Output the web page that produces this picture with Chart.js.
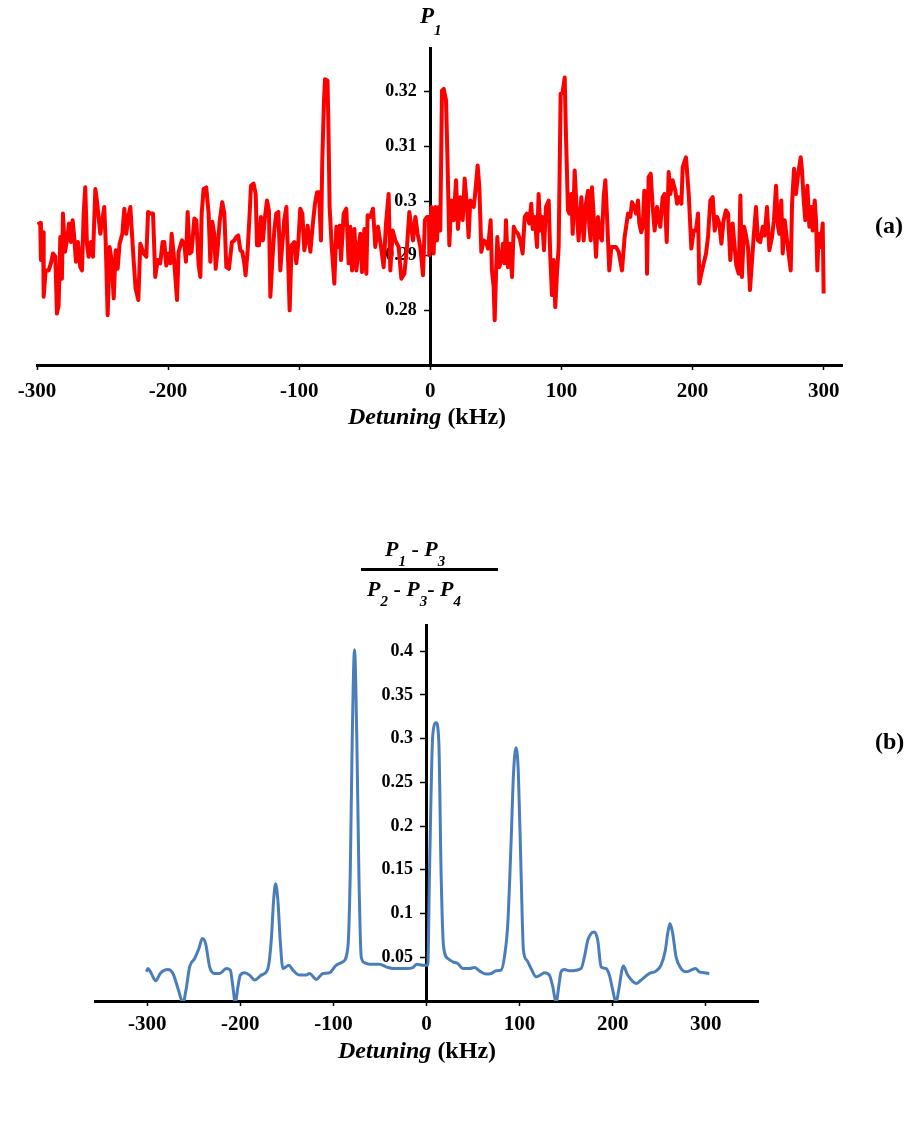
<!DOCTYPE html>
<html>
<head>
<meta charset="utf-8">
<script src="https://cdn.jsdelivr.net/npm/chart.js@4/dist/chart.umd.min.js"></script>
<style>
  body { margin: 0; background: #fff; width: 913px; height: 1144px; position: relative; overflow: hidden; }
  canvas { position: absolute; left: 0; }
  .lbl { position: absolute; font-family: 'Liberation Serif', serif; font-weight: bold; color: #000; line-height: 1; white-space: nowrap; }
  .lbl sub { font-size: 15px; vertical-align: -10px; line-height: 0; font-style: italic; }
  .bar { position: absolute; background: #000; }
</style>
</head>
<body>
<canvas id="topChart" width="913" height="440" style="top:0"></canvas>
<canvas id="bottomChart" width="913" height="604" style="top:540px"></canvas>

<div class="lbl" style="left:420px; top:4px; font-size:23px;"><i>P</i><sub style="vertical-align:-12px">1</sub></div>
<div class="lbl" style="left:348px; top:404px; font-size:24px;"><i>Detuning</i> (kHz)</div>
<div class="lbl" style="left:875px; top:213px; font-size:24px;">(a)</div>

<div class="lbl" style="left:385px; top:538px; font-size:22px;"><i>P</i><sub>1</sub> - <i>P</i><sub>3</sub></div>
<div class="bar" style="left:361px; top:568px; width:137px; height:3px;"></div>
<div class="lbl" style="left:367px; top:578px; font-size:22px;"><i>P</i><sub>2</sub> - <i>P</i><sub>3</sub>- <i>P</i><sub>4</sub></div>
<div class="lbl" style="left:338px; top:1038px; font-size:24px;"><i>Detuning</i> (kHz)</div>
<div class="lbl" style="left:875px; top:729px; font-size:24px;">(b)</div>

<script>
// (a) P1 vs detuning
const p1Detuning = [
  -299.5, -297.5, -297.0, -295.4, -294.9, -293.4, -291.1, -289.4, -287.8, -286.0,
  -284.8, -283.5, -282.2, -281.0, -280.2, -278.7, -277.1, -275.6, -274.1, -272.8,
  -271.6, -270.3, -268.8, -267.0, -265.7, -264.4, -263.2, -261.9, -260.6, -258.8,
  -257.3, -255.5, -254.3, -251.7, -250.2, -248.7, -247.6, -246.1, -244.6, -243.1,
  -241.5, -240.0, -238.5, -237.0, -234.9, -233.4, -231.9, -230.4, -228.8, -226.3,
  -224.8, -222.7, -221.2, -218.7, -216.6, -215.3, -213.6, -211.5, -209.8, -208.0,
  -206.0, -204.2, -202.9, -201.4, -199.6, -198.3, -197.3, -195.8, -193.2, -192.0,
  -189.4, -187.6, -186.4, -185.1, -183.6, -182.1, -180.0, -178.5, -176.7, -175.4,
  -174.4, -172.9, -170.9, -169.1, -167.8, -166.3, -164.8, -163.7, -162.2, -160.7,
  -158.7, -157.1, -155.6, -153.6, -151.3, -149.5,
  -148.0, -146.5, -144.9, -143.4, -141.9, -140.9, -139.3, -137.8, -136.8, -134.8,
  -133.2, -132.2, -130.7, -129.2, -127.7, -126.1, -124.6, -123.1, -122.0, -120.5,
  -119.0, -117.5, -115.9, -114.4, -112.9, -111.4, -109.8, -108.3, -107.3, -105.8,
  -103.7, -102.2, -100.7, -99.2, -97.6, -96.1, -94.6, -93.6, -91.5, -89.8,
  -88.0, -86.4, -84.9, -83.4, -82.4, -81.1, -80.3, -78.4, -77.8, -76.8,
  -75.2, -73.2, -71.7, -70.7, -69.1, -68.1, -66.1, -64.1, -62.3, -61.0,
  -59.7, -57.9, -56.4, -54.7, -53.4, -52.1, -50.3, -48.8, -47.8, -45.8,
  -43.7, -42.0, -39.9, -37.6, -35.6, -33.8, -31.8, -30.5, -28.7, -26.7,
  -24.2, -22.1, -19.8, -17.8, -16.0, -13.2, -11.4, -9.7, -7.6, -5.6,
  -4.1, -2.5, -1.0,
  -0.8, 0.8, 2.5, 3.8, 5.1, 6.4, 7.6, 8.9, 10.2, 12.0,
  13.0, 14.5, 16.0, 17.8, 19.6, 21.1, 22.9, 24.7, 26.2, 28.0,
  29.2, 30.5, 33.1, 34.3, 36.1, 37.4, 38.9, 40.7, 42.5, 44.0,
  46.0, 47.0, 48.3, 49.1, 50.1, 51.1, 52.6, 54.2, 55.4, 56.7,
  57.7, 59.2, 60.8, 62.3, 63.6, 64.8, 66.9, 68.6, 70.4, 72.0,
  73.7, 75.5, 77.0, 78.1, 79.6, 81.4, 82.6, 83.9, 85.2, 86.7,
  88.2, 90.3, 91.5, 92.8, 94.1, 95.3, 96.6, 97.9, 99.4, 100.9,
  102.5, 103.5, 105.0, 106.0, 107.6, 108.6, 110.1, 111.9, 113.1, 115.2,
  117.0, 118.7, 120.3, 121.3, 122.3, 123.3, 124.8, 126.4, 127.9, 129.7,
  130.9, 132.2, 133.5, 134.8, 136.5, 138.1, 139.8, 141.6, 143.7, 146.2,
  148.2, 150.8,
  152.6, 153.8, 155.6, 156.9, 158.4, 159.4, 160.9, 162.0, 163.2, 164.5,
  165.3, 166.5, 168.1, 169.6, 171.1, 172.9, 174.2, 175.4, 177.2, 178.7,
  180.3, 181.8, 183.1, 184.8, 186.9, 188.2, 189.4, 191.5, 192.5, 195.0,
  197.1, 199.1, 200.9, 202.6, 204.2, 205.2, 206.7, 208.5, 210.3, 211.8,
  213.6, 215.4, 216.9, 218.7, 220.4, 222.0, 223.7, 225.5, 227.1, 228.8,
  230.6, 232.1, 233.4, 235.2, 236.5, 237.7, 239.3, 240.8, 242.3, 243.8,
  245.4, 246.6, 248.4, 249.9, 251.7, 253.5, 255.0, 256.8, 258.6, 260.6,
  262.1, 263.7, 265.2, 266.2, 267.7, 268.8, 270.3, 271.8, 273.3, 274.9,
  275.9, 277.4, 278.9, 280.4, 282.5, 283.5, 284.8, 286.0, 287.6, 289.1,
  290.6, 291.6, 293.2, 294.2, 295.2, 296.2, 297.7, 299.3, 300.0
];
const p1Values = [
  0.2957, 0.2960, 0.2892, 0.2943, 0.2825, 0.2873, 0.2873, 0.2886, 0.2904, 0.2898,
  0.2794, 0.2809, 0.2934, 0.2858, 0.2977, 0.2907, 0.2928, 0.2959, 0.2925, 0.2965,
  0.2934, 0.2889, 0.2925, 0.2879, 0.2873, 0.2977, 0.3025, 0.2922, 0.2898, 0.2925,
  0.2898, 0.3022, 0.3001, 0.2940, 0.2965, 0.2989, 0.2925, 0.2791, 0.2916, 0.2892,
  0.2822, 0.2910, 0.2876, 0.2922, 0.2940, 0.2986, 0.2940, 0.2971, 0.2989, 0.2892,
  0.2840, 0.2819, 0.2922, 0.2904, 0.2898, 0.2980, 0.2977, 0.2977, 0.2861, 0.2892,
  0.2886, 0.2925, 0.2925, 0.2882, 0.2904, 0.2886, 0.2940, 0.2904, 0.2819, 0.2907,
  0.2928, 0.2922, 0.2889, 0.2980, 0.2904, 0.2907, 0.2968, 0.2965, 0.2882, 0.2861,
  0.2977, 0.3022, 0.3025, 0.2977, 0.2889, 0.2962, 0.2940, 0.2876, 0.2913, 0.2962,
  0.2998, 0.2977, 0.2879, 0.2876, 0.2925, 0.2928,
  0.2934, 0.2937, 0.2910, 0.2907, 0.2886, 0.2864, 0.2910, 0.2977, 0.3028, 0.3032,
  0.3013, 0.2919, 0.2919, 0.2971, 0.2928, 0.2971, 0.3001, 0.2983, 0.2825, 0.2892,
  0.2946, 0.2977, 0.2980, 0.2873, 0.2922, 0.2965, 0.2989, 0.2879, 0.2800, 0.2919,
  0.2925, 0.2886, 0.2922, 0.2986, 0.2977, 0.2910, 0.2931, 0.2955, 0.2907, 0.2953,
  0.2995, 0.3016, 0.3016, 0.2928, 0.3074, 0.3184, 0.3223, 0.3220, 0.3147, 0.2989,
  0.2916, 0.2849, 0.2953, 0.2916, 0.2955, 0.2892, 0.2977, 0.2986, 0.2886, 0.2953,
  0.2873, 0.2949, 0.2873, 0.2916, 0.2940, 0.2870, 0.2949, 0.2867, 0.2974, 0.2971,
  0.2986, 0.2916, 0.2953, 0.2916, 0.2879, 0.2959, 0.3013, 0.2873, 0.2946, 0.2928,
  0.2916, 0.2858, 0.2867, 0.2916, 0.2980, 0.2928, 0.2971, 0.2940, 0.2916, 0.2864,
  0.2965, 0.2971, 0.2971,
  0.2901, 0.2989, 0.2904, 0.2989, 0.2928, 0.2989, 0.2946, 0.3202, 0.3205, 0.3184,
  0.3086, 0.2919, 0.3001, 0.2965, 0.3038, 0.2949, 0.3007, 0.2965, 0.3041, 0.2989,
  0.2934, 0.3001, 0.2989, 0.3016, 0.3065, 0.3025, 0.2907, 0.2928, 0.2925, 0.2913,
  0.2965, 0.2873, 0.2843, 0.2782, 0.2867, 0.2934, 0.2879, 0.2892, 0.2922, 0.2886,
  0.2965, 0.2879, 0.2922, 0.2861, 0.2953, 0.2946, 0.2940, 0.2928, 0.2904, 0.2971,
  0.2977, 0.2959, 0.2995, 0.2949, 0.2971, 0.2916, 0.3013, 0.2946, 0.2971, 0.2910,
  0.2989, 0.3001, 0.2898, 0.2828, 0.2892, 0.2806, 0.2867, 0.2916, 0.3196, 0.3199,
  0.3226, 0.3117, 0.2983, 0.2977, 0.3013, 0.2940, 0.3056, 0.2971, 0.2928, 0.3007,
  0.2928, 0.2995, 0.3019, 0.2953, 0.2928, 0.3025, 0.2965, 0.2898, 0.2971, 0.2934,
  0.2928, 0.3007, 0.3038, 0.2971, 0.2873, 0.2916, 0.2916, 0.2916, 0.2907, 0.2873,
  0.2934, 0.2977,
  0.2971, 0.2998, 0.2989, 0.2977, 0.3001, 0.2959, 0.2943, 0.2953, 0.3019, 0.3016,
  0.2867, 0.3044, 0.3050, 0.2989, 0.2946, 0.2989, 0.2965, 0.2953, 0.3007, 0.3013,
  0.2925, 0.3053, 0.3013, 0.3038, 0.3019, 0.2995, 0.3007, 0.2995, 0.3062, 0.3080,
  0.3013, 0.2913, 0.2946, 0.2946, 0.2977, 0.2849, 0.2867, 0.2886, 0.2904, 0.2934,
  0.3001, 0.3007, 0.2946, 0.2971, 0.2959, 0.2922, 0.2965, 0.2983, 0.2977, 0.2892,
  0.2959, 0.2916, 0.2882, 0.2867, 0.3010, 0.2861, 0.2953, 0.2937, 0.2916, 0.2837,
  0.2892, 0.2934, 0.2989, 0.2928, 0.2925, 0.2953, 0.2937, 0.2989, 0.2910, 0.2934,
  0.2965, 0.3028, 0.2953, 0.2940, 0.3001, 0.2904, 0.2965, 0.2934, 0.2904, 0.2873,
  0.2995, 0.3059, 0.3013, 0.3047, 0.3080, 0.3056, 0.3001, 0.2965, 0.3028, 0.2953,
  0.2989, 0.2946, 0.3001, 0.2965, 0.2873, 0.2940, 0.2916, 0.2959, 0.2831
];
const p1XTicks = { min: -300, max: 314, step: 100 };
const p1YTicks = { min: 0.27, max: 0.328, step: 0.01 };

// (b) (P1 - P3) / (P2 - P3 - P4) vs detuning
const ratioDetuning = [
  -300.9, -299.1, -295.5, -290.9, -285.9, -281.2, -277.6, -272.3, -266.9, -261.5,
  -258.0, -254.4, -249.0, -244.4, -240.8, -237.2, -232.9, -227.5, -222.2, -215.0,
  -210.7, -207.9, -205.4, -202.5, -200.0, -195.3, -190.0, -184.6, -177.5, -170.3,
  -166.7, -164.2, -162.1, -159.6, -157.1, -154.2, -147.8, -143.5, -136.3, -129.2,
  -125.6, -118.4, -111.3, -104.1, -97.0, -89.8, -84.4, -81.9, -79.8, -77.3,
  -74.8, -72.6, -70.1, -66.5, -61.2, -50.4, -43.3, -36.1, -29.0, -21.8,
  -14.7, -10.4, -3.9, 1.4, 3.2, 6.8, 10.4, 13.2, 15.7, 18.2,
  22.9, 28.3, 33.6, 39.0, 46.2, 51.5, 56.9, 64.0, 69.4, 74.8,
  80.1, 83.7, 87.3, 90.9, 93.4, 96.2, 98.7, 101.6, 104.1, 107.7,
  112.3, 117.7, 122.0, 126.6, 132.0, 135.6, 139.2, 142.0, 144.5, 148.1,
  153.5, 166.0, 169.6, 173.2, 176.7, 180.3, 183.9, 187.5, 192.8, 196.4,
  200.0, 203.6, 206.4, 211.4, 216.1, 225.7, 230.4, 239.3, 246.5, 251.9,
  256.5, 259.0, 261.5, 264.4, 268.0, 273.3, 278.7, 284.1, 288.7, 293.0,
  298.4, 303.7
];
const ratioValues = [
  0.0334, 0.0372, 0.0315, 0.0232, 0.0315, 0.0353, 0.0361, 0.0315, 0.0144, -0.002,
  0.0144, 0.0391, 0.0486, 0.0600, 0.0714, 0.0657, 0.0391, 0.0315, 0.0315, 0.0372,
  0.0353, 0.0163, -0.002, 0.0163, 0.0296, 0.0323, 0.0296, 0.0239, 0.0296, 0.0372,
  0.0695, 0.1150, 0.1340, 0.1150, 0.0695, 0.0372, 0.0410, 0.0353, 0.0296, 0.0296,
  0.0315, 0.0247, 0.0315, 0.0323, 0.0410, 0.0448, 0.0619, 0.1454, 0.2973, 0.4017,
  0.2973, 0.1454, 0.0505, 0.0437, 0.0421, 0.0421, 0.0391, 0.0372, 0.0372, 0.0372,
  0.0383, 0.0421, 0.0410, 0.0410, 0.1454, 0.3049, 0.3181, 0.2973, 0.1454, 0.0638,
  0.0486, 0.0448, 0.0429, 0.0372, 0.0372, 0.0383, 0.0345, 0.0308, 0.0315, 0.0345,
  0.0353, 0.0505, 0.0885, 0.1834, 0.2593, 0.2897, 0.2593, 0.1454, 0.0581, 0.0467,
  0.0372, 0.0277, 0.0296, 0.0323, 0.0296, 0.0163, -0.002, 0.0163, 0.0334, 0.0361,
  0.0345, 0.0372, 0.0505, 0.0695, 0.0771, 0.0790, 0.0695, 0.0391, 0.0372, 0.0296,
  0.0125, -0.002, 0.0125, 0.0399, 0.0296, 0.0201, 0.0239, 0.0315, 0.0342, 0.0410,
  0.0581, 0.0771, 0.0885, 0.0771, 0.0505, 0.0372, 0.0334, 0.0353, 0.0372, 0.0334,
  0.0323, 0.0315
];
const ratioXTicks = { min: -356, max: 356, step: 100 };
const ratioYTicks = { min: 0, max: 0.43, step: 0.05 };

const serif = 'Liberation Serif';

function axisX(t, bottomHeight, pad) {
  return {
    type: 'linear', position: 'bottom', min: t.min, max: t.max,
    afterFit: s => { s.height = bottomHeight; },
    border: { display: true, color: '#000', width: 3 },
    grid: { display: true, drawOnChartArea: false, drawTicks: true, tickLength: 5, tickColor: '#000', tickWidth: 1.5 },
    ticks: {
      stepSize: t.step, includeBounds: false, autoSkip: false, maxRotation: 0, padding: pad,
      color: '#000', font: { family: serif, size: 21, weight: 'bold' },
      callback: v => String(v)
    }
  };
}

// labels of an axis placed at x = 0 sit flush on the line, so trailing spaces push them left
function axisY(t) {
  return {
    type: 'linear', position: { x: 0 }, min: t.min, max: t.max,
    border: { display: true, color: '#000', width: 3 },
    grid: { display: true, drawOnChartArea: false, drawTicks: true, tickLength: 5, tickColor: '#000', tickWidth: 1.5 },
    ticks: {
      stepSize: t.step, includeBounds: false, autoSkip: false,
      color: '#000', font: { family: serif, size: 18, weight: 'bold' },
      callback: v => (v - t.min < t.step / 2) ? '' : String(Number(v.toFixed(2))) + '   '
    }
  };
}

// Top chart
new Chart(document.getElementById('topChart'), {
  type: 'line',
  data: {
    datasets: [{
      data: p1Detuning.map((x, i) => ({ x: x, y: p1Values[i] })),
      borderColor: '#ff0000',
      borderWidth: 4,
      borderJoinStyle: 'round',
      pointRadius: 0,
      tension: 0
    }]
  },
  options: {
    responsive: false,
    animation: false,
    layout: { padding: { left: 37, right: 71, top: 48, bottom: 0 } },
    plugins: { legend: { display: false }, tooltip: { enabled: false } },
    scales: { x: axisX(p1XTicks, 75, 9), y: axisY(p1YTicks) }
  }
});

// Bottom chart
new Chart(document.getElementById('bottomChart'), {
  type: 'line',
  data: {
    datasets: [{
      data: ratioDetuning.map((x, i) => ({ x: x, y: ratioValues[i] })),
      borderColor: '#4a7ebb',
      borderWidth: 3,
      pointRadius: 0,
      cubicInterpolationMode: 'monotone'
    }]
  },
  options: {
    responsive: false,
    animation: false,
    layout: { padding: { left: 95, right: 155, top: 85, bottom: 0 } },
    plugins: { legend: { display: false }, tooltip: { enabled: false } },
    scales: { x: axisX(ratioXTicks, 143, 6), y: axisY(ratioYTicks) }
  }
});
</script>
</body>
</html>
